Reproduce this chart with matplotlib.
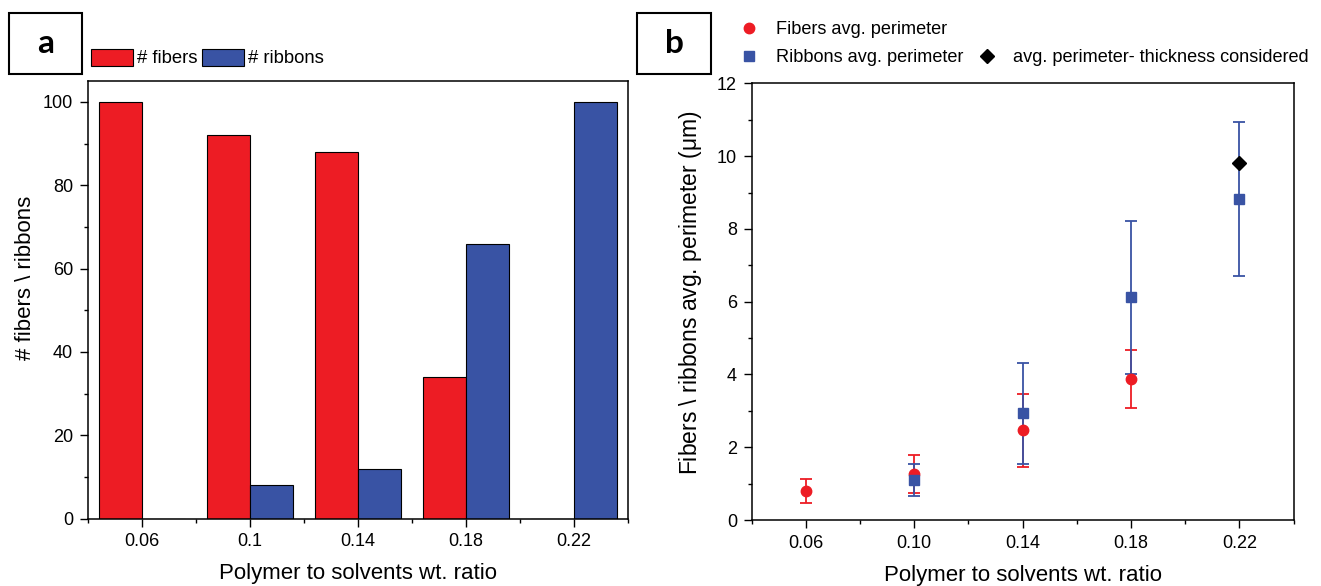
import numpy as np
import matplotlib
matplotlib.use("Agg")
import matplotlib.pyplot as plt
from matplotlib.patches import Rectangle
from matplotlib.lines import Line2D
from matplotlib.ticker import FixedLocator, MultipleLocator

plt.rcParams['font.family'] = ['Liberation Sans', 'DejaVu Sans']

# panel a: counts
ratios = ['0.06', '0.1', '0.14', '0.18', '0.22']
n_fibers = [100, 92, 88, 34, 0]
n_ribbons = [0, 8, 12, 66, 100]

# panel b: average perimeters (um) with errors
fib_x = [0.06, 0.10, 0.14, 0.18]
fib_y = [0.80, 1.27, 2.46, 3.87]
fib_err = [0.32, 0.52, 0.99, 0.79]

rib_x = [0.10, 0.14, 0.18, 0.22]
rib_y = [1.10, 2.93, 6.12, 8.82]
rib_err = [0.44, 1.38, 2.10, 2.12]

thick_x = [0.22]
thick_y = [9.80]

b_ticks = [0.06, 0.10, 0.14, 0.18, 0.22]

red = '#ED1C24'
blue = '#3953A4'

fig = plt.figure(figsize=(13.21, 5.86), dpi=100)
axa = fig.add_axes([0.0664, 0.1149, 0.4092, 0.7469])
axb = fig.add_axes([0.5690, 0.1126, 0.4103, 0.7452])

# ---- panel a
x = np.arange(len(ratios))
w = 0.4
axa.bar(x - w / 2, n_fibers, w, color=red, edgecolor='black', linewidth=0.8, label='# fibers')
axa.bar(x + w / 2, n_ribbons, w, color=blue, edgecolor='black', linewidth=0.8, label='# ribbons')
axa.set_xlim(-0.5, 4.5)
axa.set_ylim(0, 105)
axa.set_xticks(x)
axa.set_xticklabels(ratios)
axa.xaxis.set_minor_locator(FixedLocator(np.arange(-0.5, 5.0, 1.0)))
axa.yaxis.set_major_locator(MultipleLocator(20))
axa.yaxis.set_minor_locator(MultipleLocator(10))
axa.set_xlabel('Polymer to solvents wt. ratio', fontsize=16, labelpad=9.5)
axa.set_ylabel('# fibers \\ ribbons', fontsize=16)
axa.yaxis.set_label_coords(-0.096, 0.55)

# ---- panel b
axb.errorbar(fib_x, fib_y, yerr=fib_err, fmt='o', color=red, ms=7.5, capsize=4,
             elinewidth=1.3, capthick=1.3, label='Fibers avg. perimeter')
axb.errorbar(rib_x, rib_y, yerr=rib_err, fmt='s', color=blue, ms=6.5, capsize=4,
             elinewidth=1.3, capthick=1.3, label='Ribbons avg. perimeter')
axb.plot(thick_x, thick_y, 'D', color='black', ms=7, label='avg. perimeter- thickness considered')
axb.set_xlim(0.04, 0.24)
axb.set_ylim(0, 12)
axb.set_xticks(b_ticks)
axb.set_xticklabels([f'{v:.2f}' for v in b_ticks])
axb.xaxis.set_minor_locator(FixedLocator(np.arange(0.04, 0.2401, 0.04)))
axb.yaxis.set_major_locator(MultipleLocator(2))
axb.yaxis.set_minor_locator(MultipleLocator(1))
axb.set_xlabel('Polymer to solvents wt. ratio', fontsize=16, labelpad=9.5)
axb.set_ylabel('Fibers \\ ribbons avg. perimeter ($\\mathregular{\\mu}$m)', fontsize=16.5)
axb.yaxis.set_label_coords(-0.088, 0.52)

for ax in (axa, axb):
    for s in ax.spines.values():
        s.set_linewidth(1.1)
    ax.tick_params(which='major', direction='out', length=5.5, width=1.0, labelsize=13, pad=5)
    ax.tick_params(which='minor', direction='out', length=3.2, width=1.0)

# legends
fig.legend(*axa.get_legend_handles_labels(), loc='center left',
           bbox_to_anchor=(90.7 / 1321, 1 - 58 / 586), ncol=2, frameon=False,
           fontsize=13.3, handlelength=2.27, handleheight=1.07, handletextpad=0.24,
           columnspacing=0.22, borderpad=0, borderaxespad=0)

h_f = Line2D([], [], marker='o', color=red, ls='none', ms=7.5)
h_r = Line2D([], [], marker='s', color=blue, ls='none', ms=6.5)
h_d = Line2D([], [], marker='D', color='black', ls='none', ms=7)
h_blank = Line2D([], [], ls='none')
fig.legend([h_f, h_r, h_blank, h_d],
           ['Fibers avg. perimeter', 'Ribbons avg. perimeter', '', 'avg. perimeter- thickness considered'],
           loc='center left', bbox_to_anchor=(740.2 / 1321, 1 - 43.65 / 586), ncol=2,
           frameon=False, fontsize=13.1, handlelength=1.0, handletextpad=0.95,
           labelspacing=0.6, columnspacing=0.8, borderpad=0, borderaxespad=0)

# panel letters
for x0, w0, letter in [(9 / 1321, 72.7 / 1321, 'a'), (637 / 1321, 74.3 / 1321, 'b')]:
    y0 = 1 - 74.3 / 586
    h0 = 61.6 / 586
    fig.patches.append(Rectangle((x0, y0), w0, h0, transform=fig.transFigure,
                                 fill=False, edgecolor='black', linewidth=1.5))
    fig.text(x0 + w0 / 2, y0 + h0 / 2, letter, ha='center', va='center',
             fontsize=24, fontweight='bold', family='Lato')

fig.savefig('out.png', dpi=100)
